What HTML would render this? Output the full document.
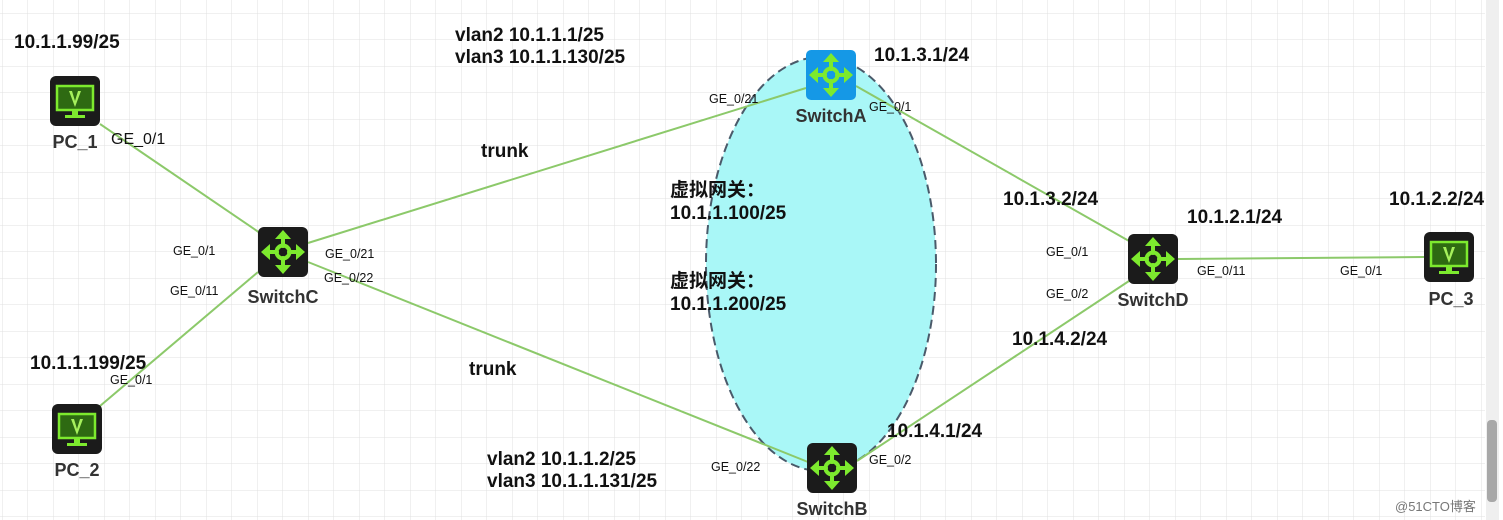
<!DOCTYPE html>
<html><head><meta charset="utf-8">
<style>
html,body{margin:0;padding:0;background:#fff;}
svg{display:block;}
text{font-family:"Liberation Sans","Noto Sans CJK SC",sans-serif;}
.b{font-weight:bold;font-size:19px;fill:#111;}
.s{font-size:12.5px;fill:#111;}
.n{font-weight:bold;font-size:18px;fill:#333;text-anchor:middle;}
</style></head><body>
<svg width="1503" height="520" viewBox="0 0 1503 520" xmlns="http://www.w3.org/2000/svg">
<defs>
<pattern id="g" width="25.5" height="26.5" patternUnits="userSpaceOnUse" x="2" y="13">
<path d="M0 0H25.5M0 0V26.5" stroke="#e0e0e0" stroke-width="1" fill="none"/>
</pattern>
<g id="sw">
<g stroke="#7dea2e" stroke-width="4" fill="none" stroke-linecap="round">
<circle r="6.5"/>
<path d="M0 -6 V-16 M0 6 V16 M-6 0 H-16 M6 0 H16"/>
</g>
<g fill="#7dea2e">
<path d="M0 -22 L-8 -13 H8Z M0 22 L-8 13 H8Z M-22 0 L-13 -8 V8Z M22 0 L13 -8 V8Z"/>
</g>
</g>
<g id="pc">
<rect x="-25" y="-25" width="50" height="50" rx="6" fill="#1b1b1b"/>
<rect x="-18" y="-15" width="36" height="24" fill="#2e6a12" stroke="#7dea2e" stroke-width="2.5"/>
<path d="M-6 -10 L0 6 L6 -10 H3 L0 0 L-3 -10Z" fill="#a6f05c"/>
<rect x="-3" y="10" width="6" height="4" fill="#7dea2e"/>
<rect x="-10" y="14" width="20" height="3" fill="#7dea2e"/>
</g>
</defs>
<rect width="1503" height="520" fill="#fff"/>
<rect width="1485" height="520" fill="url(#g)"/>
<rect x="1486" y="0" width="13" height="520" fill="#efefef"/>
<rect x="1487" y="420" width="10" height="82" rx="4" fill="#a8a8a8"/>

<ellipse cx="821" cy="264" rx="115" ry="207" fill="#a9f7f7" stroke="#4a5a6a" stroke-width="2" stroke-dasharray="9,5"/>

<g stroke="#8cc96a" stroke-width="2" fill="none">
<path d="M100 124 L260 233"/>
<path d="M258 272 L100 406"/>
<path d="M308 243 L806 88"/>
<path d="M308 262 L808 462"/>
<path d="M856 86 L1129 241"/>
<path d="M857 461 L1129 281"/>
<path d="M1178 259 L1424 257"/>
</g>

<use href="#pc" x="75" y="101"/>
<use href="#pc" x="77" y="429"/>
<use href="#pc" x="1449" y="257"/>
<rect x="258" y="227" width="50" height="50" rx="6" fill="#1b1b1b"/><use href="#sw" x="283" y="252"/>
<rect x="806" y="50" width="50" height="50" rx="5" fill="#1598e6"/><use href="#sw" x="831" y="75"/>
<rect x="807" y="443" width="50" height="50" rx="6" fill="#1b1b1b"/><use href="#sw" x="832" y="468"/>
<rect x="1128" y="234" width="50" height="50" rx="6" fill="#1b1b1b"/><use href="#sw" x="1153" y="259"/>

<text class="n" x="75" y="148">PC_1</text>
<text class="n" x="77" y="476">PC_2</text>
<text class="n" x="1451" y="305">PC_3</text>
<text class="n" x="283" y="303">SwitchC</text>
<text class="n" x="831" y="122">SwitchA</text>
<text class="n" x="832" y="515">SwitchB</text>
<text class="n" x="1153" y="306">SwitchD</text>

<text class="b" x="14" y="48">10.1.1.99/25</text>
<text class="b" x="30" y="369">10.1.1.199/25</text>
<text class="b" x="455" y="41">vlan2 10.1.1.1/25</text>
<text class="b" x="455" y="63">vlan3 10.1.1.130/25</text>
<text class="b" x="487" y="465">vlan2 10.1.1.2/25</text>
<text class="b" x="487" y="487">vlan3 10.1.1.131/25</text>
<text class="b" x="481" y="157">trunk</text>
<text class="b" x="469" y="375">trunk</text>
<text class="b" x="874" y="61">10.1.3.1/24</text>
<text class="b" x="1003" y="205">10.1.3.2/24</text>
<text class="b" x="1187" y="223">10.1.2.1/24</text>
<text class="b" x="1389" y="205">10.1.2.2/24</text>
<text class="b" x="1012" y="345">10.1.4.2/24</text>
<text class="b" x="887" y="437">10.1.4.1/24</text>
<text class="b" x="670" y="196">虚拟网关：</text>
<text class="b" x="670" y="219">10.1.1.100/25</text>
<text class="b" x="670" y="287">虚拟网关：</text>
<text class="b" x="670" y="310">10.1.1.200/25</text>

<text class="s" x="111" y="144" style="font-size:16px">GE_0/1</text>
<text class="s" x="173" y="255">GE_0/1</text>
<text class="s" x="170" y="295">GE_0/11</text>
<text class="s" x="110" y="384">GE_0/1</text>
<text class="s" x="325" y="258">GE_0/21</text>
<text class="s" x="324" y="282">GE_0/22</text>
<text class="s" x="709" y="103">GE_0/21</text>
<text class="s" x="869" y="111">GE_0/1</text>
<text class="s" x="711" y="471">GE_0/22</text>
<text class="s" x="869" y="464">GE_0/2</text>
<text class="s" x="1046" y="256">GE_0/1</text>
<text class="s" x="1046" y="298">GE_0/2</text>
<text class="s" x="1197" y="275">GE_0/11</text>
<text class="s" x="1340" y="275">GE_0/1</text>

<text x="1395" y="511" style="font-size:13px;fill:#777;">@51CTO博客</text>
</svg>
</body></html>
